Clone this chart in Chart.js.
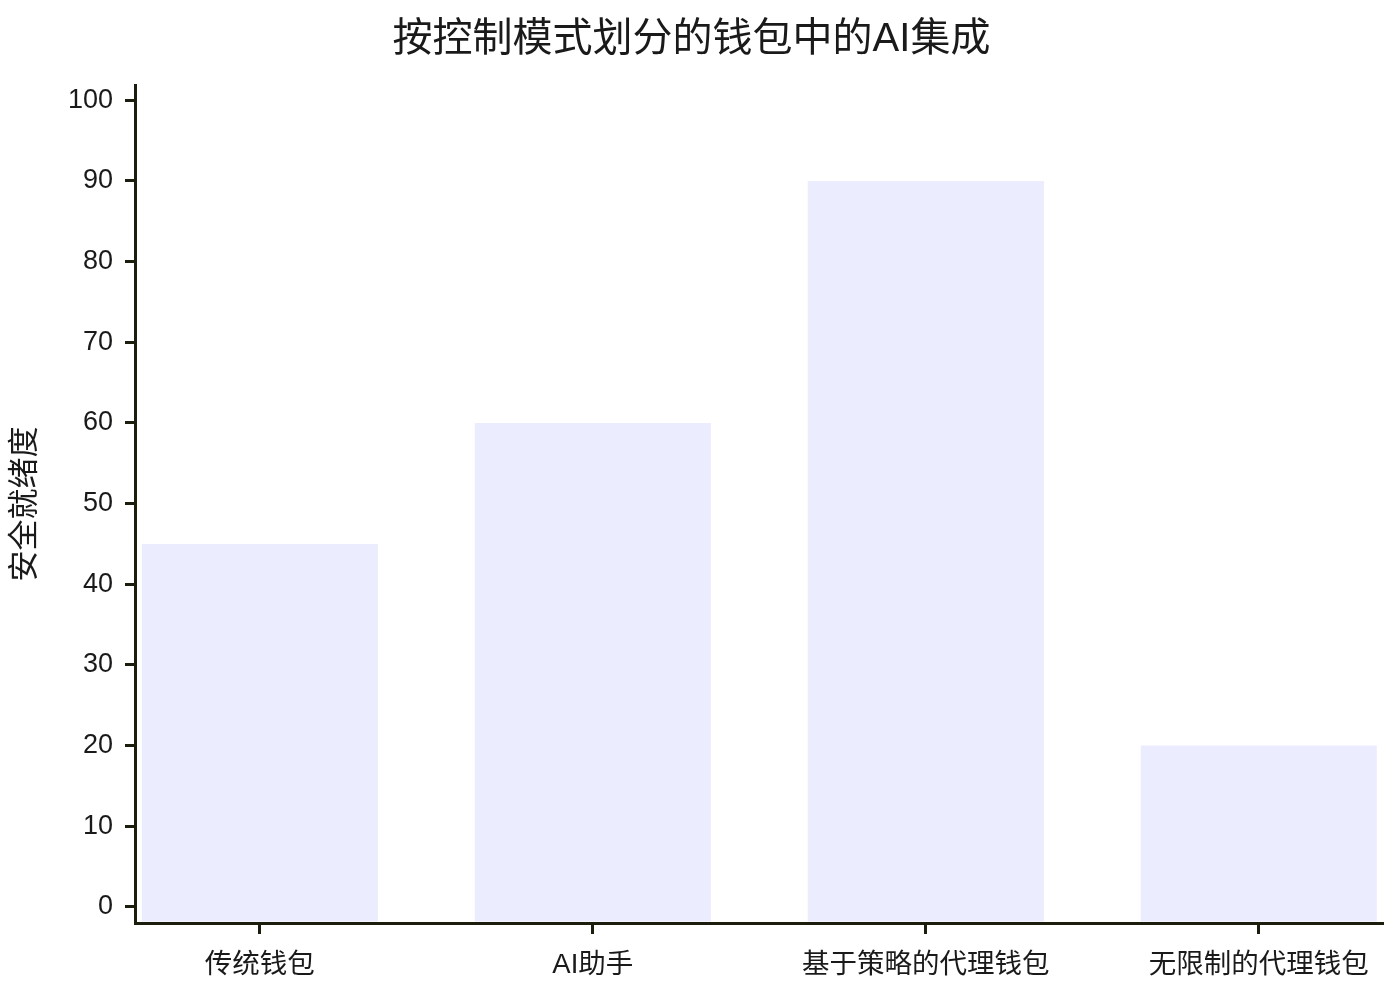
<!DOCTYPE html>
<html>
<head>
<meta charset="utf-8">
<script src="https://cdn.jsdelivr.net/npm/chart.js@4/dist/chart.umd.min.js"></script>
<style>
  html, body { margin: 0; padding: 0; background: #ffffff; }
  #wrap { width: 1400px; height: 1000px; position: relative; }
</style>
</head>
<body>
<div id="wrap"><canvas id="walletChart"></canvas></div>
<script>
// chart data
const TITLE = '按控制模式划分的钱包中的AI集成';
const Y_TITLE = '安全就绪度';
const CATEGORIES = ['传统钱包', 'AI助手', '基于策略的代理钱包', '无限制的代理钱包'];
const READINESS = [45, 60, 90, 20];
const Y_TICKS = [0, 10, 20, 30, 40, 50, 60, 70, 80, 90, 100];

const AXIS_COLOR = '#1d1d0e';
const TEXT_COLOR = '#1a1a1a';
const FONT = "'Liberation Sans', 'Noto Sans CJK SC', sans-serif";
const Y_MIN = -2;

document.addEventListener('DOMContentLoaded', () => {
    const ctx = document.getElementById('walletChart').getContext('2d');
    new Chart(ctx, {
        type: 'bar',
        data: {
            datasets: [{
                label: Y_TITLE,
                data: READINESS.map((v, i) => ({ x: i, y: v })),
                backgroundColor: '#ECECFF',
                borderWidth: 0,
                base: -1.8, // bars stop just above the x axis line
                barPercentage: 0.709,
                categoryPercentage: 1
            }]
        },
        options: {
            responsive: true,
            maintainAspectRatio: false,
            animation: false,
            layout: { padding: { left: 0, right: 17, top: 0, bottom: 0 } },
            scales: {
                x: {
                    type: 'linear',
                    offset: false,
                    min: -0.375,
                    max: 3.373,
                    afterBuildTicks: (scale) => {
                        scale.ticks = CATEGORIES.map((c, i) => ({ value: i }));
                    },
                    afterFit: (scale) => { scale.height = 77; },
                    grid: {
                        offset: false,
                        drawOnChartArea: false,
                        drawTicks: true,
                        tickLength: 11,
                        tickWidth: 3,
                        tickColor: AXIS_COLOR
                    },
                    border: { color: AXIS_COLOR, width: 3 },
                    ticks: {
                        autoSkip: false,
                        maxRotation: 0,
                        padding: 15,
                        color: TEXT_COLOR,
                        font: { family: FONT, size: 27.5 },
                        callback: (v) => CATEGORIES[v]
                    }
                },
                y: {
                    min: Y_MIN,
                    max: 101.9,
                    afterBuildTicks: (scale) => {
                        scale.ticks = Y_TICKS.map(v => ({ value: v }));
                    },
                    afterFit: (scale) => { scale.width = 135; },
                    grid: {
                        drawOnChartArea: false,
                        drawTicks: true,
                        tickLength: 10,
                        tickWidth: 3,
                        tickColor: AXIS_COLOR
                    },
                    border: { color: AXIS_COLOR, width: 3 },
                    ticks: {
                        padding: 12,
                        color: TEXT_COLOR,
                        font: { family: FONT, size: 27 }
                    },
                    title: {
                        display: true,
                        text: Y_TITLE,
                        color: TEXT_COLOR,
                        font: { family: FONT, size: 31 },
                        padding: { top: 7, bottom: 0 }
                    }
                }
            },
            plugins: {
                legend: { display: false },
                tooltip: { enabled: false },
                title: {
                    display: true,
                    text: TITLE,
                    color: TEXT_COLOR,
                    font: { family: FONT, size: 40, weight: 'normal' },
                    padding: { top: 16, bottom: 21 }
                }
            }
        }
    });
});
</script>
</body>
</html>
